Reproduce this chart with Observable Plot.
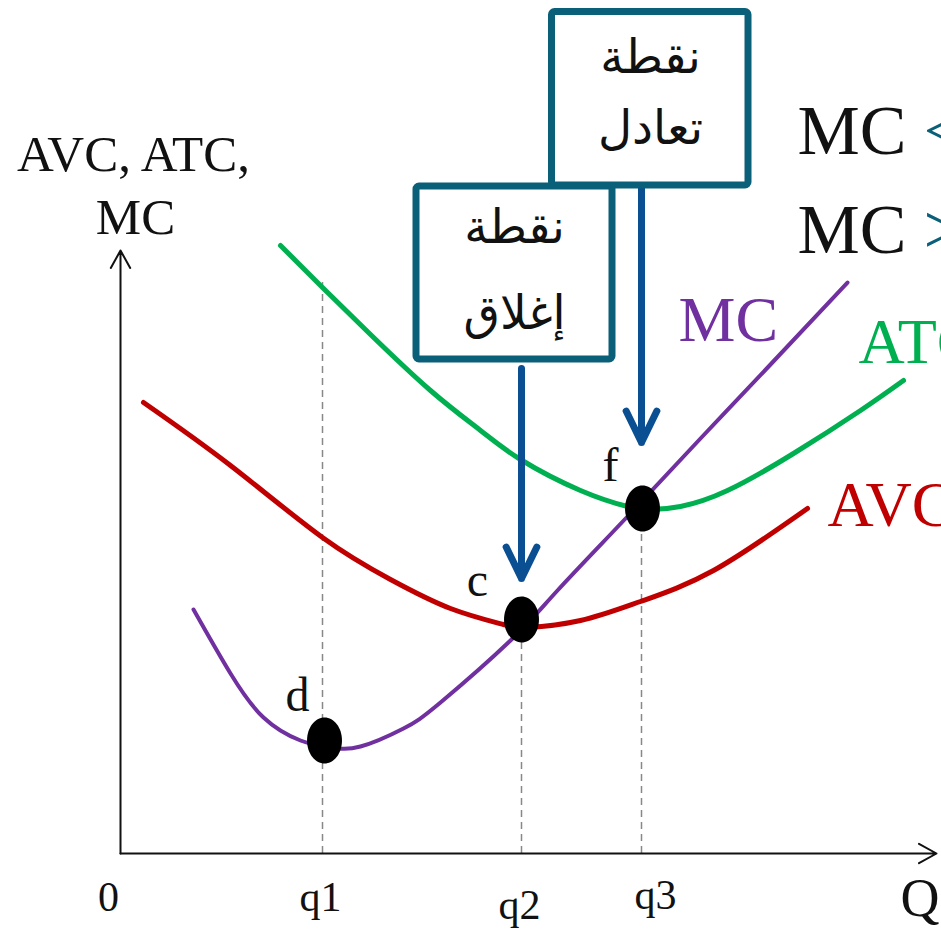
<!DOCTYPE html>
<html><head><meta charset="utf-8">
<script src="https://cdn.jsdelivr.net/npm/d3@7"></script>
<script src="https://cdn.jsdelivr.net/npm/@observablehq/plot@0.6"></script>
<style>html,body{margin:0;padding:0;background:#fff;overflow:hidden;}</style>
</head><body><div id="chart"></div>
<script>
// Curves (Q, cost)
const mcCurve = [[7.3,24.4],[11.0,18.0],[14.3,13.6],[18.0,11.3],[21.0,10.6],[24.0,10.7],[28.3,12.5],[32.0,15.1],[39.0,21.3],[43.7,26.3],[50.7,33.7],[58.0,41.5],[65.0,48.9],[72.7,57.1]];
const atcCurve = [[16.0,60.8],[20.2,56.6],[25.0,51.9],[31.0,46.3],[36.0,42.3],[40.0,39.4],[46.0,36.3],[50.7,34.7],[53.0,34.4],[56.0,34.7],[60.7,36.3],[67.3,40.0],[74.0,44.3],[78.3,47.3]];
const avcCurve = [[2.3,45.1],[11.0,38.8],[20.2,31.6],[27.0,27.4],[33.0,24.5],[38.3,22.9],[40.7,22.6],[46.0,23.3],[52.0,25.2],[59.3,28.3],[68.7,34.5]];

// Key points
const pointNames = ["d","c","f"];
const pointQ = [20.4, 40.1, 52.2];
const pointCost = [11.3, 23.4, 34.5];
const pointLabelX = [17.7, 35.7, 49.0];
const pointLabelY = [14.3, 25.8, 37.3];

// Guide lines (q1, q2, q3)
const guideQ = [20.2, 40.1, 52.1];
const guideTop = [57.1, 23.4, 34.5];

// Tick labels
const tickLabels = ["0","q1","q2","q3"];
const tickX = [-1.2, 20.0, 39.9, 53.5];
const tickY = [-5.7, -5.7, -6.5, -5.5];

// Axes extent
const axisXEnd = 81.6;
const axisYEnd = 60.3;

// Annotation boxes
const boxes = [
  {x1:43.15, x2:62.8, y1:84.15, y2:66.8},
  {x1:29.6, x2:49.2, y1:66.7, y2:49.4}
];
const boxText = ["نقطة","تعادل","نقطة","إغلاق"];
const boxTextX = [53.0, 53.0, 39.4, 39.4];
const boxTextY = [78.1, 71.0, 61.1, 52.5];

// Down arrows from boxes
const arrows = [
  {x1:52.1, y1:66.5, x2:52.1, y2:41.1},
  {x1:40.1, y1:48.5, x2:40.1, y2:27.5}
];

// Curve labels
const curveLabels = ["MC","ATC","AVC"];
const curveLabelX = [55.8, 73.8, 70.7];
const curveLabelY = [51.3, 49.1, 32.8];
const curveColors = ["#7030a0","#00b050","#c00000"];

// Y axis title
const yTitle = ["AVC, ATC,","MC"];
const yTitleX = [1.3, 1.5];
const yTitleY = [68.3, 62.0];

// Top-right comparison text
const cmpLeft = ["MC","MC"];
const cmpSign = ["<",">"];
const cmpX = [67.7, 80.3];
const cmpY = [70.0, 60.1];

const rows = pts => pts.map(([x,y]) => ({x,y}));

const ellipse = {
  draw(ctx, size) {
    const ry = Math.sqrt(size / Math.PI), rx = ry * 0.76, k = 0.5523;
    ctx.moveTo(rx, 0);
    ctx.bezierCurveTo(rx, k*ry, k*rx, ry, 0, ry);
    ctx.bezierCurveTo(-k*rx, ry, -rx, k*ry, -rx, 0);
    ctx.bezierCurveTo(-rx, -k*ry, -k*rx, -ry, 0, -ry);
    ctx.bezierCurveTo(k*rx, -ry, rx, -k*ry, rx, 0);
    ctx.closePath();
  }
};

const serif = "'Liberation Serif', 'DejaVu Serif', serif";
const arabic = "'Liberation Serif', 'DejaVu Sans', sans-serif";
const teal = "#0b6079";
const blue = "#0b4f93";

const chart = Plot.plot({
  width: 941, height: 929, margin: 0,
  x: {domain: [-12, 82.1], axis: null},
  y: {domain: [-7.6, 85.3], axis: null},
  style: {background: "white", fontFamily: serif},
  marks: [
    Plot.ruleX(guideQ.map((q,i)=>({q, top: guideTop[i]})), {x: "q", y1: 0, y2: "top", stroke: "#888", strokeWidth: 1.5, strokeDasharray: "7,5"}),
    Plot.arrow([{x1:0,y1:0,x2:0,y2:axisYEnd},{x1:0,y1:0,x2:axisXEnd,y2:0}], {x1:"x1", y1:"y1", x2:"x2", y2:"y2", stroke:"#111", strokeWidth:2, headLength:15, headAngle:58}),
    Plot.line(rows(avcCurve), {x:"x", y:"y", stroke: curveColors[2], strokeWidth: 5, curve: "natural"}),
    Plot.line(rows(atcCurve), {x:"x", y:"y", stroke: curveColors[1], strokeWidth: 5, curve: "natural"}),
    Plot.line(rows(mcCurve), {x:"x", y:"y", stroke: curveColors[0], strokeWidth: 4, curve: "natural"}),
    Plot.dot(pointNames.map((n,i)=>({n, x: pointQ[i], y: pointCost[i]})), {x:"x", y:"y", r: 23, fill: "black", symbol: ellipse}),
    Plot.text(pointNames.map((n,i)=>({n, x: pointLabelX[i], y: pointLabelY[i]})), {x:"x", y:"y", text:"n", fontSize: 48, fill:"#111", lineAnchor:"bottom", textAnchor:"middle", fontFamily: serif}),
    Plot.arrow(arrows, {x1:"x1", y1:"y1", x2:"x2", y2:"y2", stroke: blue, strokeWidth: 7, headLength: 7.5, headAngle: 52}),
    Plot.rect(boxes, {x1:"x1", x2:"x2", y1:"y1", y2:"y2", fill:"none", stroke: teal, strokeWidth: 7, rx: 3}),
    Plot.text(boxText.map((t,i)=>({t, x: boxTextX[i], y: boxTextY[i]})), {x:"x", y:"y", text:"t", fontSize: 47, fill:"#111", lineAnchor:"bottom", textAnchor:"middle", fontFamily: arabic}),
    Plot.text(curveLabels.map((t,i)=>({t, x: curveLabelX[i], y: curveLabelY[i], c: curveColors[i]})), {x:"x", y:"y", text:"t", fill: d => d.c, fontSize: 64, lineAnchor:"bottom", textAnchor:"start", fontFamily: serif}),
    Plot.text(yTitle.map((t,i)=>({t, x: yTitleX[i], y: yTitleY[i]})), {x:"x", y:"y", text:"t", fontSize: 51, fill:"#111", lineAnchor:"bottom", textAnchor:"middle", fontFamily: serif}),
    Plot.text(tickLabels.map((t,i)=>({t, x: tickX[i], y: tickY[i]})), {x:"x", y:"y", text:"t", fontSize: 42, fill:"#111", lineAnchor:"bottom", textAnchor:"middle", fontFamily: serif}),
    Plot.text([{t:"Q", x:78.0, y:-6.2}], {x:"x", y:"y", text:"t", fontSize: 54, fill:"#111", lineAnchor:"bottom", textAnchor:"start", fontFamily: serif}),
    Plot.text(cmpLeft.map((t,i)=>({t, x: cmpX[0], y: cmpY[i]})), {x:"x", y:"y", text:"t", fontSize: 70, fill:"#111", lineAnchor:"bottom", textAnchor:"start", fontFamily: serif}),
    Plot.text(cmpSign.map((t,i)=>({t, x: cmpX[1], y: cmpY[i]})), {x:"x", y:"y", text:"t", fontSize: 70, fill: teal, lineAnchor:"bottom", textAnchor:"start", fontFamily: serif})
  ]
});
document.getElementById("chart").appendChild(chart);
</script>
</body></html>
